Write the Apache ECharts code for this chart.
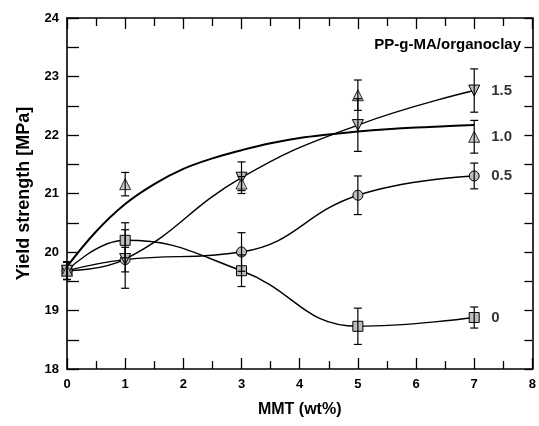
<!DOCTYPE html>
<html>
<head>
<meta charset="utf-8">
<script src="https://cdn.jsdelivr.net/npm/echarts@6/dist/echarts.min.js"></script>
<style>
  html, body { margin: 0; padding: 0; background: #fff; }
  #chart { width: 539px; height: 426px; }
</style>
</head>
<body>
<div id="chart"></div>
<script>
// MMT loading (wt%) at which samples were measured
const mmt = [0, 1, 3, 5, 7];

// Yield strength [MPa] and error half-widths per PP-g-MA/organoclay ratio
const ys0 = [19.68, 20.20, 19.68, 18.73, 18.88];
const err0 = [0.15, 0.30, 0.27, 0.31, 0.18];

const ys05 = [19.68, 19.87, 20.00, 20.97, 21.30];
const err05 = [0.15, 0.21, 0.33, 0.33, 0.22];

const ys10 = [19.68, 21.16, 21.17, 22.68, 21.97];
const err10 = [0.15, 0.20, 0.12, 0.26, 0.28];

const ys15 = [19.68, 19.88, 21.27, 22.17, 22.76];
const err15 = [0.15, 0.50, 0.27, 0.45, 0.37];

// Fitted trend for the 1.0 ratio
const fit10X = [0, 0.5, 1, 1.5, 2, 2.5, 3, 3.5, 4, 4.5, 5, 5.5, 6, 6.5, 7];
const fit10Y = [19.75, 20.35, 20.82, 21.16, 21.42, 21.60, 21.74, 21.86, 21.95, 22.01, 22.06, 22.10, 22.13, 22.15, 22.17];

// Ratio labels beside the last points
const ratioLabels = ['0', '0.5', '1.0', '1.5'];

const xTicks = { min: 0, max: 8, interval: 1 };
const yTicks = { min: 18, max: 24, interval: 1 };

const pairs = (xs, ys) => xs.map((x, i) => [x, ys[i]]);
const errRows = (ys, es) => mmt.map((x, i) => [x, ys[i] - es[i], ys[i] + es[i]]);

const FONT = 'Liberation Sans, Arial, Helvetica, sans-serif';
const markerStyle = { color: '#bdbdbd', borderColor: '#000', borderWidth: 1 };

function errorBars(rows) {
  return {
    type: 'custom',
    xAxisIndex: 0, yAxisIndex: 0,
    z: 5,
    silent: true,
    data: rows,
    renderItem: function (params, api) {
      const x = api.value(0);
      const lo = api.coord([x, api.value(1)]);
      const hi = api.coord([x, api.value(2)]);
      const w = 4;
      const style = { stroke: '#000', lineWidth: 1.2 };
      return {
        type: 'group',
        children: [
          { type: 'line', shape: { x1: lo[0], y1: lo[1], x2: hi[0], y2: hi[1] }, style: style },
          { type: 'line', shape: { x1: lo[0] - w, y1: lo[1], x2: lo[0] + w, y2: lo[1] }, style: style },
          { type: 'line', shape: { x1: hi[0] - w, y1: hi[1], x2: hi[0] + w, y2: hi[1] }, style: style }
        ]
      };
    }
  };
}

function endLabel(text, y) {
  return {
    type: 'scatter',
    xAxisIndex: 0, yAxisIndex: 0,
    symbolSize: 0,
    silent: true,
    data: [[mmt[mmt.length - 1], y]],
    label: {
      show: true, position: 'right', distance: 17,
      formatter: text, color: '#000', fontFamily: FONT, fontWeight: 'bold', fontSize: 15
    }
  };
}

const axisLine = { show: true, onZero: false, lineStyle: { color: '#000', width: 1.6 } };

const option = {
  animation: false,
  backgroundColor: '#fff',
  grid: { left: 67, right: 4, top: 18, bottom: 57, containLabel: false },
  xAxis: [
    {
      type: 'value', position: 'bottom', ...xTicks,
      name: 'MMT (wt%)', nameLocation: 'middle', nameGap: 33,
      nameTextStyle: { color: '#000', fontFamily: FONT, fontWeight: 'bold', fontSize: 16 },
      axisLine: axisLine,
      axisTick: { show: true, inside: true, length: 11, lineStyle: { color: '#000', width: 1.3 } },
      minorTick: { show: true, splitNumber: 2, length: 8, lineStyle: { color: '#000', width: 1.3 } },
      axisLabel: { color: '#000', fontFamily: FONT, fontWeight: 'bold', fontSize: 13, margin: 9 },
      splitLine: { show: false }
    },
    {
      type: 'value', position: 'top', ...xTicks,
      axisLine: axisLine,
      axisTick: { show: true, inside: true, length: 11, lineStyle: { color: '#000', width: 1.3 } },
      minorTick: { show: true, splitNumber: 2, length: 8, lineStyle: { color: '#000', width: 1.3 } },
      axisLabel: { show: false },
      splitLine: { show: false }
    }
  ],
  yAxis: [
    {
      type: 'value', position: 'left', ...yTicks,
      name: 'Yield strength [MPa]', nameLocation: 'middle', nameGap: 34,
      nameTextStyle: { color: '#000', fontFamily: FONT, fontWeight: 'bold', fontSize: 18 },
      axisLine: axisLine,
      axisTick: { show: true, inside: true, length: 12, lineStyle: { color: '#000', width: 1.3 } },
      minorTick: { show: true, splitNumber: 2, length: 12, lineStyle: { color: '#000', width: 1.3 } },
      axisLabel: { color: '#000', fontFamily: FONT, fontWeight: 'bold', fontSize: 13, margin: 8 },
      splitLine: { show: false }
    },
    {
      type: 'value', position: 'right', ...yTicks,
      axisLine: axisLine,
      axisTick: { show: true, inside: true, length: 8, lineStyle: { color: '#000', width: 1.3 } },
      minorTick: { show: true, splitNumber: 2, length: 8, lineStyle: { color: '#000', width: 1.3 } },
      axisLabel: { show: false },
      splitLine: { show: false }
    }
  ],
  graphic: [
    {
      type: 'text', right: 18, top: 37,
      style: { text: 'PP-g-MA/organoclay', fill: '#000', font: 'bold 15px ' + FONT }
    }
  ],
  series: [
    // trend curves
    {
      type: 'line', smooth: 0.45, data: pairs(mmt, ys0), symbol: 'rect', symbolSize: 10,
      itemStyle: markerStyle, lineStyle: { color: '#000', width: 1.4 }, z: 3
    },
    {
      type: 'line', smooth: 0.45, data: pairs(mmt, ys05), symbol: 'circle', symbolSize: 10,
      itemStyle: markerStyle, lineStyle: { color: '#000', width: 1.4 }, z: 3
    },
    {
      type: 'line', smooth: 0.45, data: pairs(mmt, ys15), symbol: 'triangle', symbolRotate: 180, symbolSize: 11,
      itemStyle: markerStyle, lineStyle: { color: '#000', width: 1.4 }, z: 3
    },
    {
      type: 'line', smooth: 0.4, data: pairs(fit10X, fit10Y), showSymbol: false,
      lineStyle: { color: '#000', width: 2 }, z: 2
    },
    {
      type: 'scatter', data: pairs(mmt, ys10), symbol: 'triangle', symbolSize: 11,
      itemStyle: markerStyle, z: 3
    },
    // error bars
    errorBars(errRows(ys0, err0)),
    errorBars(errRows(ys05, err05)),
    errorBars(errRows(ys10, err10)),
    errorBars(errRows(ys15, err15)),
    // ratio labels
    endLabel(ratioLabels[0], ys0[4]),
    endLabel(ratioLabels[1], ys05[4]),
    endLabel(ratioLabels[2], ys10[4]),
    endLabel(ratioLabels[3], ys15[4])
  ]
};

const chart = echarts.init(document.getElementById('chart'), null, { renderer: 'canvas' });
chart.setOption(option);
</script>
</body>
</html>
